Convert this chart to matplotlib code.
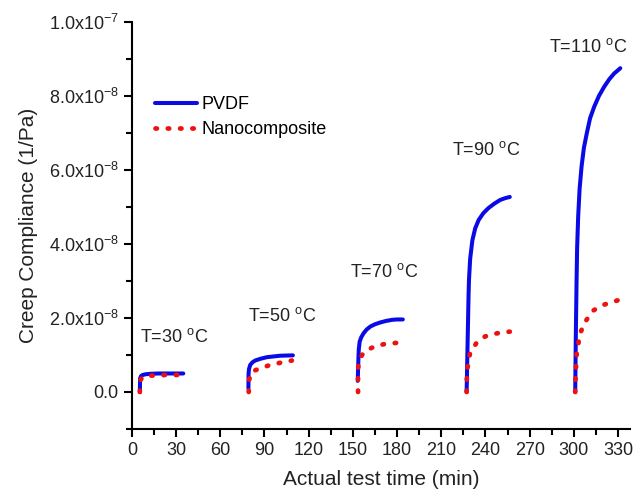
import matplotlib.pyplot as plt
from matplotlib.ticker import MultipleLocator, FixedLocator

plt.rcParams['font.family'] = ['Liberation Sans', 'DejaVu Sans']
plt.rcParams['mathtext.default'] = 'regular'

# time (min) and compliance (x1e-8 1/Pa), one list per temperature step
pvdf_t = [
    [5.4, 5.6, 6.2, 7.3, 9.5, 12.2, 18.0, 23.6, 29.0, 34.9],
    [79.1, 79.2, 79.5, 80.3, 81.8, 83.7, 87.5, 91.6, 96.0, 100.7, 105.0, 109.3],
    [153.3, 153.6, 153.8, 154.0, 154.6, 155.7, 157.3, 159.4, 161.9, 165.0,
     168.7, 172.5, 176.7, 180.0, 183.9],
    [227.2, 227.7, 228.2, 228.5, 228.8, 229.6, 231.1, 233.0, 235.4, 238.5,
     242.0, 246.0, 250.0, 253.5, 256.5],
    [300.9, 301.3, 301.8, 302.2, 302.9, 303.9, 305.2, 306.8, 308.8, 311.0,
     313.8, 317.0, 320.6, 324.0, 327.4, 329.5, 331.5],
]
pvdf_c = [
    [0.0, 0.37, 0.43, 0.46, 0.48, 0.49, 0.50, 0.50, 0.50, 0.50],
    [0.10, 0.50, 0.62, 0.73, 0.80, 0.85, 0.90, 0.94, 0.96, 0.98, 0.985, 0.99],
    [0.30, 0.70, 0.95, 1.15, 1.36, 1.48, 1.59, 1.69, 1.77, 1.83,
     1.88, 1.92, 1.95, 1.96, 1.96],
    [0.0, 1.0, 2.0, 2.6, 3.03, 3.60, 4.10, 4.42, 4.65, 4.83,
     4.97, 5.09, 5.19, 5.24, 5.27],
    [0.0, 1.5, 2.95, 3.9, 4.74, 5.5, 6.09, 6.6, 7.00, 7.4,
     7.71, 8.0, 8.25, 8.45, 8.61, 8.68, 8.75],
]
nano_t = [
    [5.4, 5.6, 7.0, 12.2, 23.6, 34.9],
    [79.3, 79.5, 81.4, 87.1, 93.9, 100.7, 108.6],
    [153.5, 153.5, 153.8, 156.2, 158.9, 165.3, 172.1, 177.8, 183.0],
    [227.2, 227.4, 229.5, 233.8, 239.7, 245.8, 251.5, 256.5],
    [300.9, 301.2, 302.0, 304.3, 307.0, 313.1, 319.0, 325.2, 330.8],
]
nano_c = [
    [0.0, 0.30, 0.40, 0.44, 0.46, 0.46],
    [0.0, 0.32, 0.55, 0.64, 0.73, 0.79, 0.85],
    [0.0, 0.55, 0.77, 1.00, 1.12, 1.24, 1.30, 1.32, 1.34],
    [0.0, 0.55, 1.05, 1.32, 1.50, 1.57, 1.61, 1.63],
    [0.0, 0.52, 1.09, 1.58, 1.86, 2.20, 2.34, 2.42, 2.49],
]
temps = ['30', '50', '70', '90', '110']
label_x = [5.4, 79, 148.3, 217.5, 283.2]
label_y = [1.49, 2.05, 3.25, 6.54, 9.33]

fig = plt.figure(figsize=(6.34, 4.94), dpi=100)
ax = fig.add_axes([0.208, 0.1316, 0.7855, 0.824])

for i in range(len(pvdf_t)):
    ax.plot(pvdf_t[i], [c * 1e-8 for c in pvdf_c[i]], color='#0a0ae6', lw=2.9,
            solid_capstyle='round', solid_joinstyle='round',
            label='PVDF' if i == 0 else None, zorder=2)
    ax.plot(nano_t[i], [c * 1e-8 for c in nano_c[i]], color='#ee1111', lw=3.4,
            linestyle=(0, (0.3, 2.3)), dash_capstyle='round',
            label='Nanocomposite' if i == 0 else None, zorder=3)

for i, t in enumerate(temps):
    ax.text(label_x[i], label_y[i] * 1e-8, 'T=' + t + r' $^{o}$C', fontsize=13,
            va='center', ha='left', color='#222222')

ax.set_xlim(0, 338)
ax.set_ylim(-1e-8, 1e-7)
ax.xaxis.set_major_locator(MultipleLocator(30))
ax.xaxis.set_minor_locator(MultipleLocator(15))
yt = [0, 2e-8, 4e-8, 6e-8, 8e-8, 1e-7]
ax.yaxis.set_major_locator(FixedLocator(yt))
ax.yaxis.set_minor_locator(FixedLocator([-1e-8, 1e-8, 3e-8, 5e-8, 7e-8, 9e-8]))
ax.set_yticklabels(['0.0', r'2.0x10$^{-8}$', r'4.0x10$^{-8}$', r'6.0x10$^{-8}$',
                    r'8.0x10$^{-8}$', r'1.0x10$^{-7}$'])

for s in ['top', 'right']:
    ax.spines[s].set_visible(False)
for s in ['left', 'bottom']:
    ax.spines[s].set_linewidth(1.5)
ax.tick_params(which='major', direction='out', length=6, width=1.5,
               labelsize=13, labelcolor='#222222')
ax.tick_params(which='minor', direction='out', length=4, width=1.5)

ax.set_xlabel('Actual test time (min)', fontsize=15, color='#222222', labelpad=8)
ax.set_ylabel('Creep Compliance (1/Pa)', fontsize=15, color='#222222', labelpad=8)

ax.legend(loc='upper left', bbox_to_anchor=(155 / 634, 1 - 96 / 494),
          bbox_transform=fig.transFigure, frameon=False, fontsize=13,
          handlelength=2.3, handletextpad=0.3, labelspacing=0.45, borderpad=0,
          borderaxespad=0)

fig.savefig('out.png', dpi=100)
